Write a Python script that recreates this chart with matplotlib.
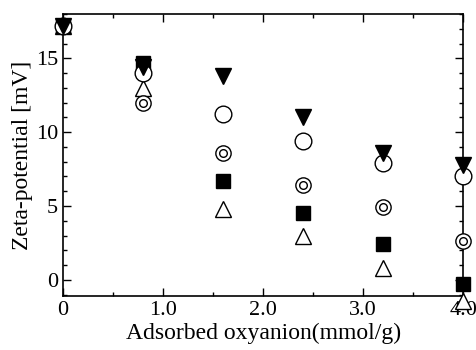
import matplotlib.pyplot as plt
from matplotlib.ticker import MultipleLocator, FixedLocator

plt.rcParams['font.family'] = ['Liberation Serif', 'DejaVu Serif']

# adsorbed oxyanion (mmol/g)
x = [0.0, 0.8, 1.6, 2.4, 3.2, 4.0]

# zeta-potential (mV) for each series
tri_down = [17.2, 14.4, 13.8, 11.0, 8.6, 7.8]
circle = [17.2, 14.0, 11.2, 9.4, 7.9, 7.0]
dbl_circle = [17.2, 12.0, 8.6, 6.4, 4.9, 2.6]
square = [17.2, 14.7, 6.7, 4.5, 2.4, -0.3]
tri_up = [17.2, 13.0, 4.8, 3.0, 0.8, -1.4]

xticks = [0, 1, 2, 3, 4]
xticklabels = ['0', '1.0', '2.0', '3.0', '4.0']
yticks = [0, 5, 10, 15]

fig = plt.figure(figsize=(4.77, 3.5), dpi=100)
ax = fig.add_axes([0.132, 0.154, 0.839, 0.806])

ms = 11
ax.plot(x, tri_up, ls='none', marker='^', ms=ms, mfc='white', mec='black', mew=1.0, clip_on=False, zorder=3)
ax.plot(x, square, ls='none', marker='s', ms=ms - 1, mfc='black', mec='black', clip_on=False, zorder=3)
ax.plot(x, dbl_circle, ls='none', marker='o', ms=ms, mfc='white', mec='black', mew=1.0, clip_on=False, zorder=3)
ax.plot(x, dbl_circle, ls='none', marker='o', ms=ms / 2, mfc='white', mec='black', mew=1.0, clip_on=False, zorder=3)
ax.plot(x, circle, ls='none', marker='o', ms=ms + 1, mfc='white', mec='black', mew=1.0, clip_on=False, zorder=3)
ax.plot(x, tri_down, ls='none', marker='v', ms=ms + 1, mfc='black', mec='black', clip_on=False, zorder=4)

ax.set_xlim(0, 4.0)
ax.set_ylim(-1.1, 18)
ax.xaxis.set_major_locator(FixedLocator(xticks))
ax.set_xticklabels(xticklabels)
ax.xaxis.set_minor_locator(MultipleLocator(0.5))
ax.yaxis.set_major_locator(FixedLocator(yticks))
ax.yaxis.set_minor_locator(MultipleLocator(1))

ax.tick_params(which='both', direction='in', top=True, right=True, labelsize=16, width=1)
ax.tick_params(which='major', length=6)
ax.tick_params(which='minor', length=3)
for s in ax.spines.values():
    s.set_linewidth(1.2)

ax.set_xlabel('Adsorbed oxyanion(mmol/g)', fontsize=17, labelpad=2)
ax.set_ylabel('Zeta-potential [mV]', fontsize=17, labelpad=2)

fig.savefig('out.png', dpi=100)
